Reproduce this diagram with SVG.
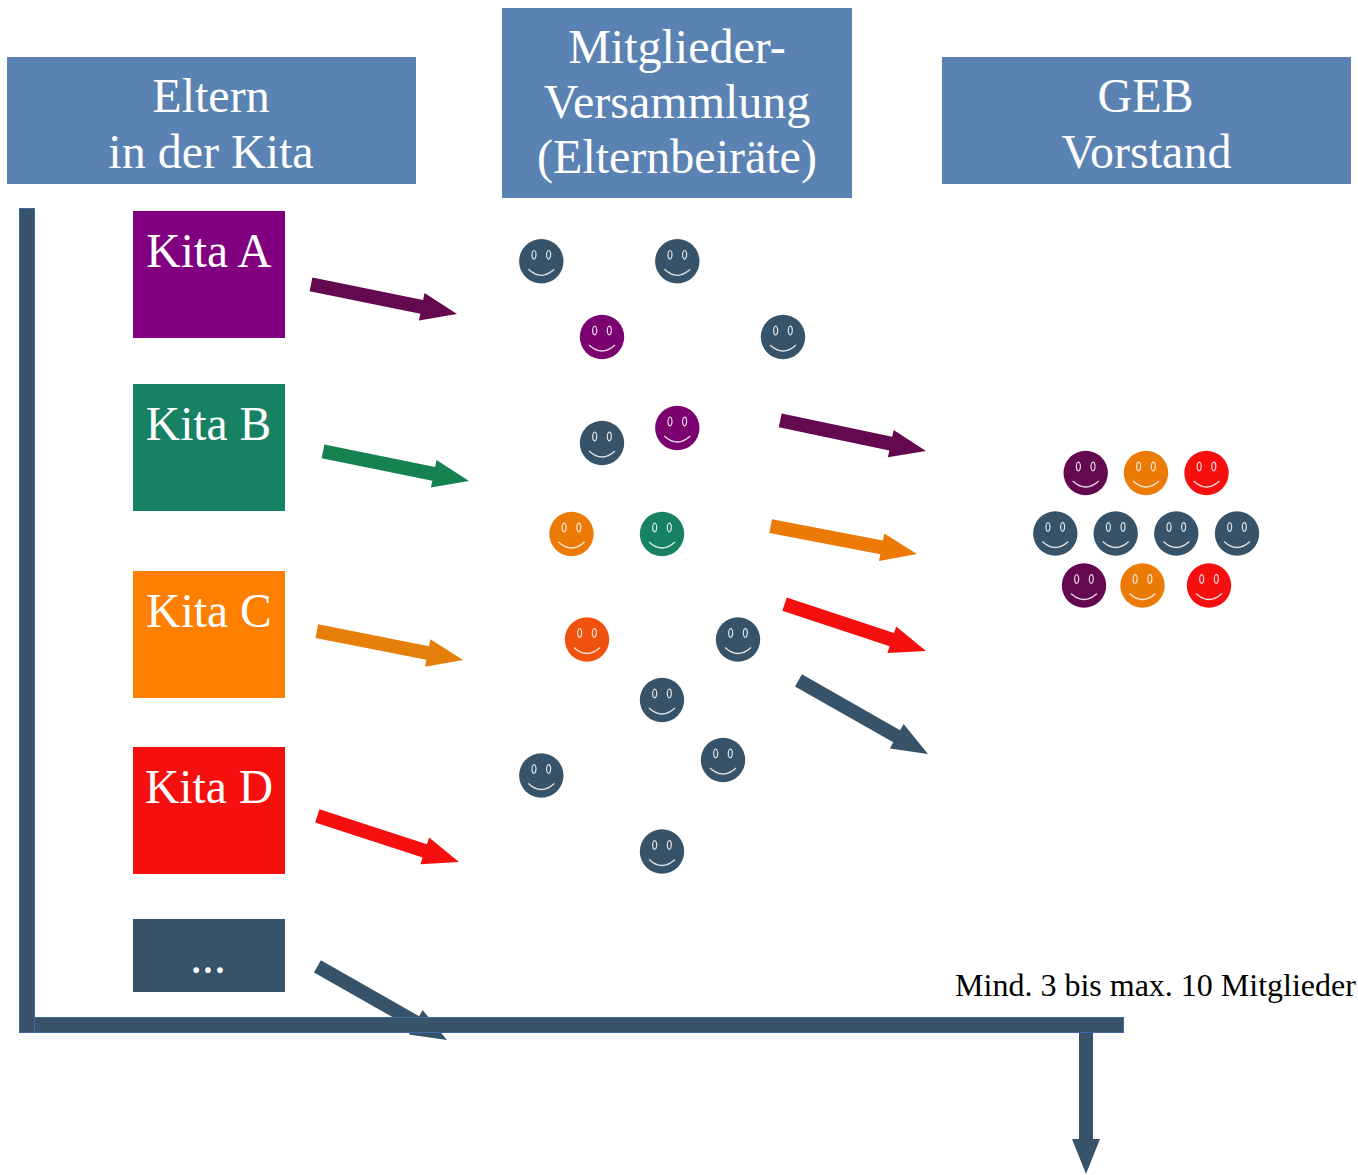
<svg xmlns="http://www.w3.org/2000/svg" width="1358" height="1175" viewBox="0 0 1358 1175">
<style>
text{font-family:"Liberation Serif","Times New Roman",serif;text-anchor:middle}
.hd{fill:#5a83b3}
.ht{fill:#fff;font-size:48px}
.kt{fill:#fff;font-size:47.500px}
.dark{fill:#375369}
.pur{fill:#7b0070}
.dpur{fill:#640850}
.org{fill:#ec7a06}
.red{fill:#f50f0f}
.grn{fill:#168263}
.rorg{fill:#ee520c}
.face{fill:none;stroke:#fff;stroke-opacity:.85;stroke-width:1.2}
.bar{fill:#375369;stroke:#3f6aa5;stroke-width:1}
</style>
<defs>
<g id="smile">
<circle r="22.2"/>
<ellipse class="face" cx="-7.300" cy="-6.500" rx="2" ry="4.300"/>
<ellipse class="face" cx="7.300" cy="-6.500" rx="2" ry="4.300"/>
<path class="face" d="M-13 8Q0 20 13 8"/>
</g>
<polygon id="arr" points="-149,-7 -36,-7 -36,-14 0,0 -36,14 -36,7 -149,7"/>
</defs>
<g id="header-eltern"><rect class="hd" x="7" y="57" width="409" height="127"/><text class="ht" x="211" y="111.500">Eltern</text><text class="ht" x="211" y="167.500">in der Kita</text></g>
<g id="header-mitglieder"><rect class="hd" x="502" y="8" width="350" height="190"/><text class="ht" x="677" y="63">Mitglieder-</text><text class="ht" x="677" y="118">Versammlung</text><text class="ht" x="677" y="173">(Elternbeiräte)</text></g>
<g id="header-geb"><rect class="hd" x="942" y="57" width="409" height="127"/><text class="ht" x="1145.500" y="111.500">GEB</text><text class="ht" x="1146.500" y="167.500">Vorstand</text></g>
<g id="kita-a"><rect x="133" y="211" width="152" height="127" fill="#800080"/><text class="kt" x="209" y="266.500">Kita A</text></g>
<g id="kita-b"><rect class="grn" x="133" y="384" width="152" height="127"/><text class="kt" x="208.500" y="439.500">Kita B</text></g>
<g id="kita-c"><rect x="133" y="571" width="152" height="127" fill="#ff8000"/><text class="kt" x="209" y="626.500">Kita C</text></g>
<g id="kita-d"><rect class="red" x="133" y="747" width="152" height="127"/><text class="kt" x="209" y="802.500">Kita D</text></g>
<g id="kita-more"><rect class="dark" x="133" y="919" width="152" height="73"/><text class="kt" x="208" y="973">...</text></g>
<g id="connectors">
<use href="#arr" class="dpur" transform="translate(457,314) rotate(11.5)"/>
<use href="#arr" fill="#168250" transform="translate(469,481) rotate(11.5)"/>
<use href="#arr" fill="#e67e0a" transform="translate(463,660) rotate(11.2)"/>
<use href="#arr" class="red" transform="translate(459,862) rotate(18)"/>
<use href="#arr" class="dark" transform="translate(447,1040) rotate(29.6)"/>
<use href="#arr" class="dpur" transform="translate(926,451) rotate(11.9)"/>
<use href="#arr" class="org" transform="translate(917,554) rotate(10.8)"/>
<use href="#arr" class="red" transform="translate(926,651) rotate(18.3)"/>
<use href="#arr" class="dark" transform="translate(928,754) rotate(29.6)"/>
<rect class="bar" x="19.500" y="208.500" width="15" height="824"/>
<rect class="bar" x="34.500" y="1017.500" width="1089" height="15"/>
<polygon class="dark" points="1079,1033 1093,1033 1093,1139 1100,1139 1086,1174 1072,1139 1079,1139"/>
</g>
<g id="smileys-mitglieder">
<use href="#smile" class="dark" x="541.300" y="261.300"/>
<use href="#smile" class="dark" x="677.300" y="261.300"/>
<use href="#smile" class="pur" x="602" y="337"/>
<use href="#smile" class="dark" x="783" y="337"/>
<use href="#smile" class="dark" x="602" y="443"/>
<use href="#smile" class="pur" x="677.300" y="428"/>
<use href="#smile" class="org" x="571.500" y="534"/>
<use href="#smile" class="grn" x="662" y="534"/>
<use href="#smile" class="rorg" x="587" y="639.500"/>
<use href="#smile" class="dark" x="738" y="639.500"/>
<use href="#smile" class="dark" x="662" y="700"/>
<use href="#smile" class="dark" x="723" y="760"/>
<use href="#smile" class="dark" x="541.300" y="775.500"/>
<use href="#smile" class="dark" x="662" y="851.500"/>
</g>
<g id="smileys-vorstand">
<use href="#smile" class="dpur" x="1085.700" y="473"/>
<use href="#smile" class="org" x="1146" y="473"/>
<use href="#smile" class="red" x="1206.500" y="473"/>
<use href="#smile" class="dark" x="1055.300" y="533.500"/>
<use href="#smile" class="dark" x="1115.700" y="533.500"/>
<use href="#smile" class="dark" x="1176.300" y="533.500"/>
<use href="#smile" class="dark" x="1237" y="533.500"/>
<use href="#smile" class="dpur" x="1084" y="585.500"/>
<use href="#smile" class="org" x="1142.500" y="585.500"/>
<use href="#smile" class="red" x="1209" y="585.500"/>
</g>
<g id="note"><text x="1155.500" y="996" font-size="32" fill="#000">Mind. 3 bis max. 10 Mitglieder</text></g>
</svg>
